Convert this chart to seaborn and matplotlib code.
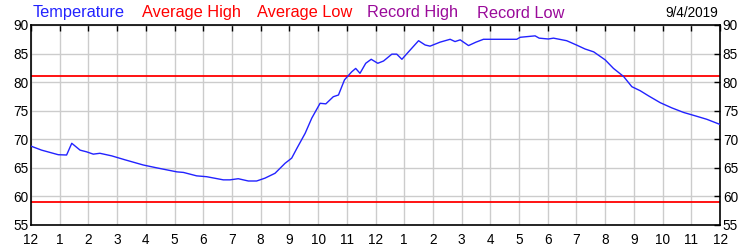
import matplotlib
matplotlib.use("Agg")
import matplotlib.pyplot as plt
import seaborn as sns
import pandas as pd

# ---- data ----
hours = [0.0, 0.37, 0.95, 1.24, 1.42, 1.71, 1.94, 2.17, 2.4, 2.81, 3.28, 3.91,
         4.38, 5.08, 5.31, 5.77, 6.12, 6.7, 6.93, 7.22, 7.57, 7.86, 8.15, 8.5,
         8.85, 9.08, 9.26, 9.55, 9.78, 10.07, 10.27, 10.53, 10.71, 10.92, 11.17,
         11.31, 11.46, 11.66, 11.85, 12.08, 12.28, 12.57, 12.74, 12.92, 13.15,
         13.5, 13.73, 13.9, 14.25, 14.6, 14.77, 14.95, 15.24, 15.5, 15.76, 16.0,
         16.92, 17.04, 17.56, 17.7, 18.02, 18.2, 18.66, 19.0, 19.3, 19.6, 20.0,
         20.29, 20.64, 20.93, 21.22, 21.51, 21.92, 22.32, 22.73, 23.14, 23.54, 24.0]
temps = [68.8, 68.1, 67.3, 67.25, 69.3, 68.1, 67.8, 67.4, 67.55, 67.1, 66.4, 65.5,
         65.0, 64.3, 64.2, 63.6, 63.45, 62.9, 62.9, 63.1, 62.7, 62.7, 63.2, 64.05,
         65.8, 66.7, 68.4, 71.05, 73.7, 76.3, 76.2, 77.45, 77.75, 80.4, 81.8,
         82.4, 81.55, 83.3, 84.0, 83.3, 83.7, 84.9, 84.9, 84.0, 85.3,
         87.25, 86.5, 86.3, 87.0, 87.5, 87.1, 87.4, 86.4, 87.0, 87.5, 87.5,
         87.5, 87.85, 88.1, 87.7, 87.55, 87.7, 87.25, 86.5, 85.8, 85.3, 83.9,
         82.4, 81.0, 79.2, 78.5, 77.6, 76.4, 75.5, 74.7, 74.1, 73.5, 72.6]
avg_high = 81.0
avg_low = 59.0
date_label = "9/4/2019"
legend_labels = ["Temperature", "Average High", "Average Low", "Record High", "Record Low"]
legend_colors = ["#2222FF", "#FF0000", "#FF0000", "#9A0A9A", "#9A0A9A"]
x_tick_labels = ["12", "1", "2", "3", "4", "5", "6", "7", "8", "9", "10", "11",
                 "12", "1", "2", "3", "4", "5", "6", "7", "8", "9", "10", "11", "12"]
y_ticks = [55, 60, 65, 70, 75, 80, 85, 90]

sns.set_style("white")
plt.rcParams["font.family"] = ["Liberation Sans", "DejaVu Sans"]

fig = plt.figure(figsize=(7.5, 2.5), dpi=100)
ax = fig.add_axes([31 / 750, 25 / 250, 689 / 750, 200 / 250])

df = pd.DataFrame({"hour": hours, "temp": temps})
sns.lineplot(data=df, x="hour", y="temp", ax=ax, color="#2222FF", linewidth=1.0,
             estimator=None, sort=False, zorder=3)
ax.axhline(avg_high, color="#FF0000", linewidth=1.3, zorder=2)
ax.axhline(avg_low, color="#FF0000", linewidth=1.3, zorder=2)

ax.set_xlim(0, 24)
ax.set_ylim(55, 90)
ax.set_xticks(range(25))
ax.set_xticklabels(x_tick_labels)
ax.set_yticks(y_ticks)
ax.set_xlabel("")
ax.set_ylabel("")

ax.grid(True, color="#CCCCCC", linewidth=1.0, zorder=0)
ax.set_axisbelow(True)
for s in ax.spines.values():
    s.set_color("black")
    s.set_linewidth(1.2)

ax.tick_params(axis="both", direction="in", length=4, width=1, colors="black",
               labelsize=9.8, top=True, right=True, labelright=True, pad=2)
ax.tick_params(axis="x", pad=6)
for lab in ax.get_xticklabels() + ax.get_yticklabels():
    lab.set_color("black")

# legend-like header texts
xs = [33, 142, 257, 367, 477]
for x, t, c in zip(xs, legend_labels, legend_colors):
    fig.text(x / 750, 1 - 13 / 250, t, color=c, fontsize=11.8, ha="left", va="center")
fig.text(718 / 750, 1 - 13 / 250, date_label, color="black", fontsize=9.8,
         ha="right", va="center")

fig.savefig("out.png", dpi=100)
